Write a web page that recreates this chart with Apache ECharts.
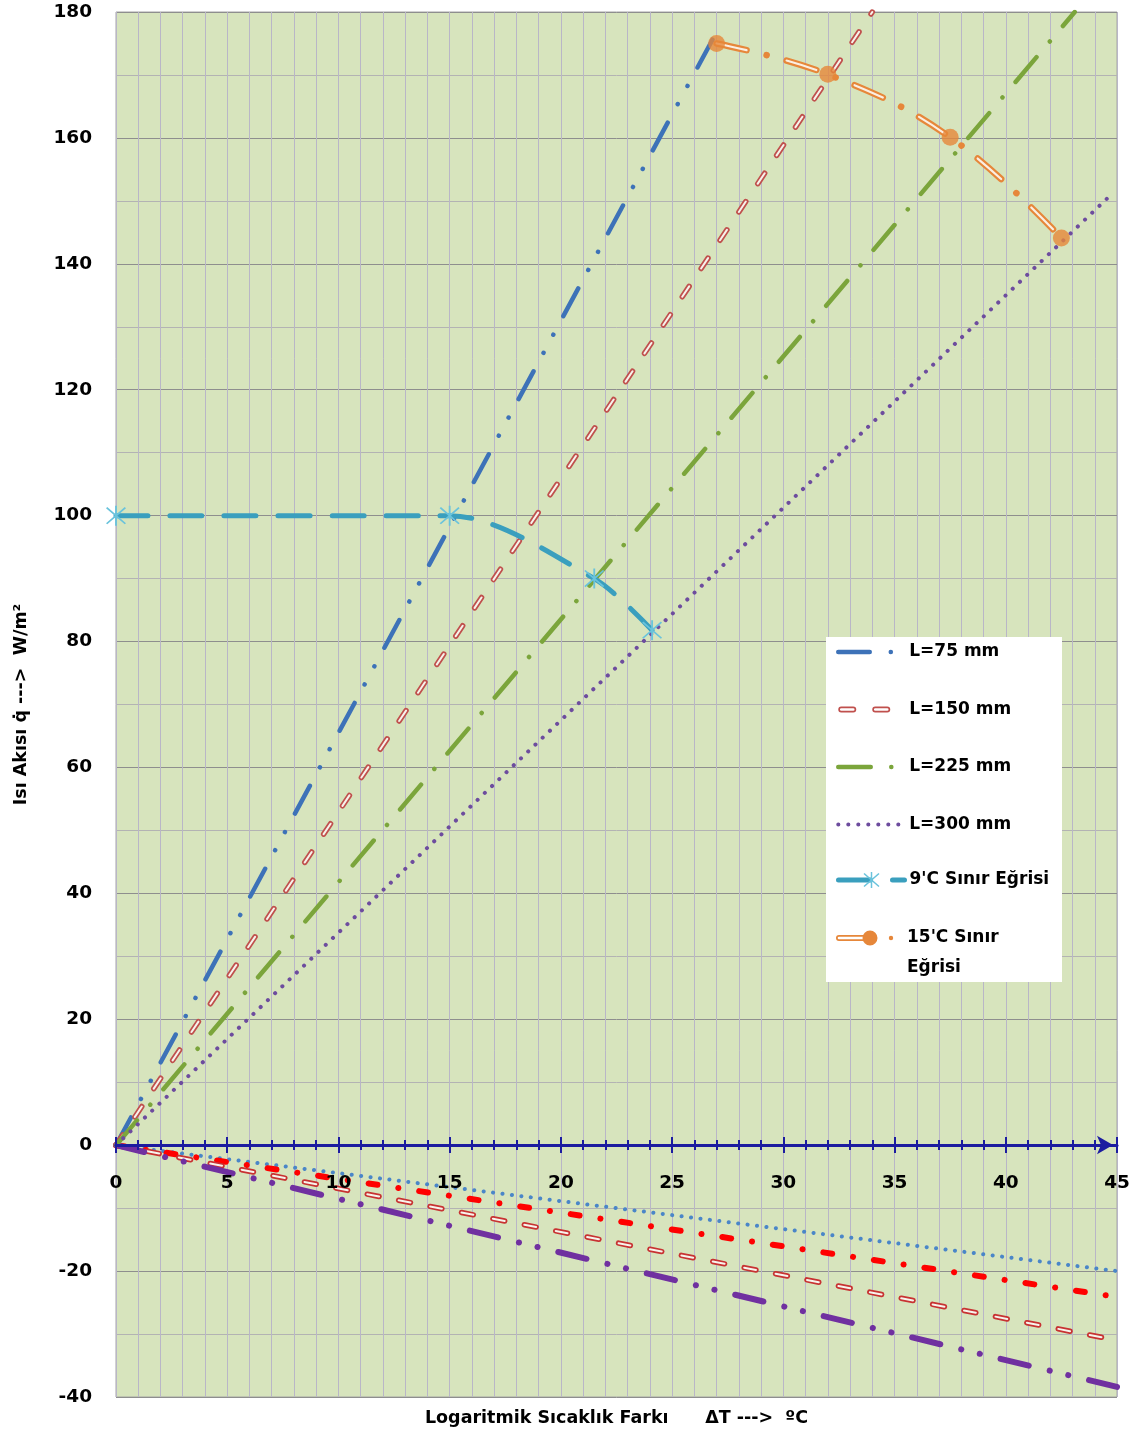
<!DOCTYPE html>
<html><head><meta charset="utf-8">
<script src="https://cdn.jsdelivr.net/npm/echarts@6/dist/echarts.min.js"></script>
<style>html,body{margin:0;padding:0;background:#fff}#c{width:1137px;height:1434px}</style>
</head><body><div id="c"></div>
<script>
// ---- data (ΔT, q) ----
const L75   = [[0, 0], [27.15, 177.8]];
const L150  = [[0, 0], [34.0, 180]];
const L225  = [[0, 0], [43.1, 180]];
const L300  = [[0, 0], [44.8, 151.2]];
const sinir9  = [[0, 100], [15.0, 100], [21.5, 90], [24.1, 81.8]];
const sinir15 = [[27.0, 175], [32.0, 170.1], [37.5, 160.1], [42.5, 144.1]];
const negBlueDotted   = [[0, 0], [45, -20.0]];
const negRedDashDot   = [[0, 0], [45, -24.1]];
const negRedHollow    = [[0, 0], [45, -31.0]];
const negPurpleDash   = [[0, 0], [45, -38.4]];
const legendLines = ['L=75 mm', 'L=150 mm', 'L=225 mm', 'L=300 mm'];
const legend9  = ["9'C Sınır Eğrisi"];
const legend15 = ["15'C Sınır Eğrisi"];
const xTitle = 'Logaritmik Sıcaklık Farkı      ΔT --->  ºC';
const yTitle = 'Isı Akısı q̇ --->  W/m²';

const FONT = '"DejaVu Sans", sans-serif';
const BG = '#d7e4bd';
const AXIS = '#1c1ca0';
const HOLLOW_IN = '#f7f3ec';
const asterisk = 'path://M9.2,0H10.8V20H9.2Z M1.4,2.5L2.5,1.4L18.6,17.5L17.5,18.6Z M17.5,1.4L18.6,2.5L2.5,18.6L1.4,17.5Z';
// hollow legend samples (outer capsule with a reversed inner capsule = hole)
const capsule = (x0, x1, y) =>
  `M${x0 + 3},${y} H${x1 - 3} A3,3 0 0 1 ${x1 - 3},${y + 6} H${x0 + 3} A3,3 0 0 1 ${x0 + 3},${y} Z ` +
  `M${x0 + 3},${y + 1.7} A1.3,1.3 0 0 0 ${x0 + 3},${y + 4.3} H${x1 - 3} A1.3,1.3 0 0 0 ${x1 - 3},${y + 1.7} Z `;
const circ = (cx, cy, r) => `M${cx - r},${cy} A${r},${r} 0 1 1 ${cx + r},${cy} A${r},${r} 0 1 1 ${cx - r},${cy} Z `;
const icon150 = 'path://' + capsule(0, 18, 0) + capsule(34, 52, 0) + 'M66,3';
const icon15  = 'path://' + capsule(0, 34, 5) + circ(34, 8, 7.5) + circ(55, 8, 2.2) + 'M66,8';

function ln(name, data, color, width, type, extra) {
  return Object.assign({
    name, type: 'line', data, showSymbol: false, symbol: 'none',
    animation: false, silent: true, xAxisIndex: 0, yAxisIndex: 0,
    lineStyle: { color, width, type, cap: 'round' },
    itemStyle: { color }
  }, extra || {});
}

const G = { left: 116, right: 20, outerBoundsMode: 'none', containLabel: false };
const xRange = { type: 'value', min: 0, max: 45, interval: 5 };
const legendText = { fontSize: 17, fontWeight: 'bold', color: '#000', fontFamily: FONT };
const legendLine = { width: 'inherit', type: 'inherit', cap: 'inherit', color: 'inherit' };

const chart = echarts.init(document.getElementById('c'), null, { renderer: 'canvas' });
chart.setOption({
  animation: false,
  textStyle: { fontFamily: FONT },
  grid: [
    Object.assign({}, G, { top: 12, bottom: 37, show: true, backgroundColor: BG, borderColor: '#a4a4a4', borderWidth: 1 }),
    Object.assign({}, G, { top: 12, bottom: 289 }),   // upper part: axis line on q = 0
    Object.assign({}, G, { top: 1145, bottom: 37 })   // lower part: upward ticks on q = 0
  ],
  xAxis: [
    Object.assign({}, xRange, {
      gridIndex: 0, position: 'bottom',
      axisLine: { show: false, onZero: false }, axisTick: { show: false }, axisLabel: { show: false },
      splitLine: { show: true, lineStyle: { color: '#b9b6c7', width: 1 } },
      minorTick: { show: false, splitNumber: 5 },
      minorSplitLine: { show: true, lineStyle: { color: '#b9b6c7', width: 1 } },
      name: xTitle, nameLocation: 'middle', nameGap: 12,
      nameTextStyle: { fontSize: 17.5, fontWeight: 'bold', color: '#000', fontFamily: FONT }
    }),
    Object.assign({}, xRange, {
      gridIndex: 1, position: 'bottom', z: 8,
      axisLine: { show: true, onZero: false, lineStyle: { color: AXIS, width: 3 }, symbol: ['none', 'arrow'], symbolSize: [14, 16], symbolOffset: [0, -4] },
      axisTick: { show: true, length: 8, inside: false, lineStyle: { color: AXIS, width: 2 } },
      minorTick: { show: true, splitNumber: 5, length: 5, lineStyle: { color: AXIS, width: 2 } },
      axisLabel: { show: true, margin: 29, fontSize: 18.5, fontWeight: 'bold', color: '#000', fontFamily: FONT },
      splitLine: { show: false }
    }),
    Object.assign({}, xRange, {
      gridIndex: 2, position: 'top', z: 8,
      axisLine: { show: false, onZero: false },
      axisTick: { show: true, length: 8, inside: false, lineStyle: { color: AXIS, width: 2 } },
      minorTick: { show: true, splitNumber: 5, length: 5, lineStyle: { color: AXIS, width: 2 } },
      axisLabel: { show: false }, splitLine: { show: false }
    })
  ],
  yAxis: [{
    gridIndex: 0, type: 'value', min: -40, max: 180, interval: 20,
    axisLine: { show: false }, axisTick: { show: false },
    axisLabel: { margin: 24, fontSize: 18.5, fontWeight: 'bold', color: '#000', fontFamily: FONT },
    splitLine: { show: true, lineStyle: { color: '#8e8e8e', width: 1 } },
    minorTick: { show: false, splitNumber: 2 },
    minorSplitLine: { show: true, lineStyle: { color: '#b3b3b3', width: 1 } },
    name: yTitle, nameLocation: 'middle', nameGap: 86, nameRotate: 90,
    nameTextStyle: { fontSize: 17.5, fontWeight: 'bold', color: '#000', fontFamily: FONT }
  },
  { gridIndex: 1, type: 'value', min: 0, max: 180, show: false },
  { gridIndex: 2, type: 'value', min: -40, max: 0, show: false }],
  graphic: [{ type: 'rect', left: 826, top: 637, shape: { width: 236, height: 345 }, style: { fill: '#ffffff' }, z: 20, silent: true }],
  legend: [{
    data: legendLines.map(n => n === 'L=150 mm' ? { name: n, icon: icon150, itemStyle: { opacity: 1 } } : n),
    orient: 'vertical', left: 836, top: 642, padding: 0, z: 30,
    itemWidth: 66, itemHeight: 14, itemGap: 37.5, selectedMode: false,
    itemStyle: { opacity: 0 }, lineStyle: legendLine,
    textStyle: Object.assign({ lineHeight: 20 }, legendText)
  }, {
    data: legend9, orient: 'vertical', left: 836, top: 870, padding: 0, z: 30,
    itemWidth: 66, itemHeight: 20, selectedMode: false, lineStyle: legendLine,
    textStyle: Object.assign({ lineHeight: 20 }, legendText)
  }, {
    data: legend15.map(n => ({ name: n, icon: icon15 })),
    orient: 'vertical', left: 836, top: 893, padding: 0, z: 30,
    itemWidth: 66, itemHeight: 20, selectedMode: false,
    formatter: () => "\n15'C Sınır\nEğrisi",
    textStyle: Object.assign({ lineHeight: 30 }, legendText)
  }],
  series: [
    // lower (negative) lines
    ln('neg blue', negBlueDotted, '#4a86c8', 4, [0.1, 9.4]),
    ln('neg red dashdot', negRedDashDot, '#ff0000', 6, [9, 21, 0.1, 21]),
    ln('neg hollow', negRedHollow, '#c83232', 5.5, [12, 20]),
    ln('neg hollow in', negRedHollow, HOLLOW_IN, 2, [12, 20]),
    ln('neg purple', negPurpleDash, '#7030a0', 6, [29, 21.5, 0.1, 19, 0.1, 21.3]),
    // upper lines
    ln('L=75 mm', L75, '#3d72b8', 4.5, [31.5, 21, 0.1, 20.5, 0.1, 21]),
    ln('L=150 mm', L150, '#c0504d', 5.5, [12.5, 21.5]),
    ln('L=150 in', L150, HOLLOW_IN, 2, [12.5, 21.5]),
    ln('L=225 mm', L225, '#7ba53b', 4.5, [32.5, 20.5, 0.1, 20.2]),
    ln('L=300 mm', L300, '#6d4c9e', 4, [0.1, 9.9]),
    ln("9'C Sınır Eğrisi", sinir9, '#3a9fbe', 5, [32, 22], {
      smooth: 0.3, smoothConstraint: false, showSymbol: true, symbol: asterisk, symbolSize: 20,
      itemStyle: { color: '#6ac3dc' }
    }),
    ln("15'C Sınır Eğrisi", sinir15, '#e6873a', 6.5, [31, 20.5, 0.1, 20.5], {
      smooth: 0.4, showSymbol: false, symbol: 'circle', symbolSize: 17,
      itemStyle: { color: '#e6873a' }
    }),
    ln('15 in', sinir15, '#fbeee2', 2.2, [31, 41.1], { smooth: 0.4 }),
    { name: '15 markers', type: 'scatter', data: sinir15, symbol: 'circle', symbolSize: 17, silent: true,
      xAxisIndex: 0, yAxisIndex: 0, itemStyle: { color: '#e6873a' }, z: 5 }
  ]
});
</script></body></html>
